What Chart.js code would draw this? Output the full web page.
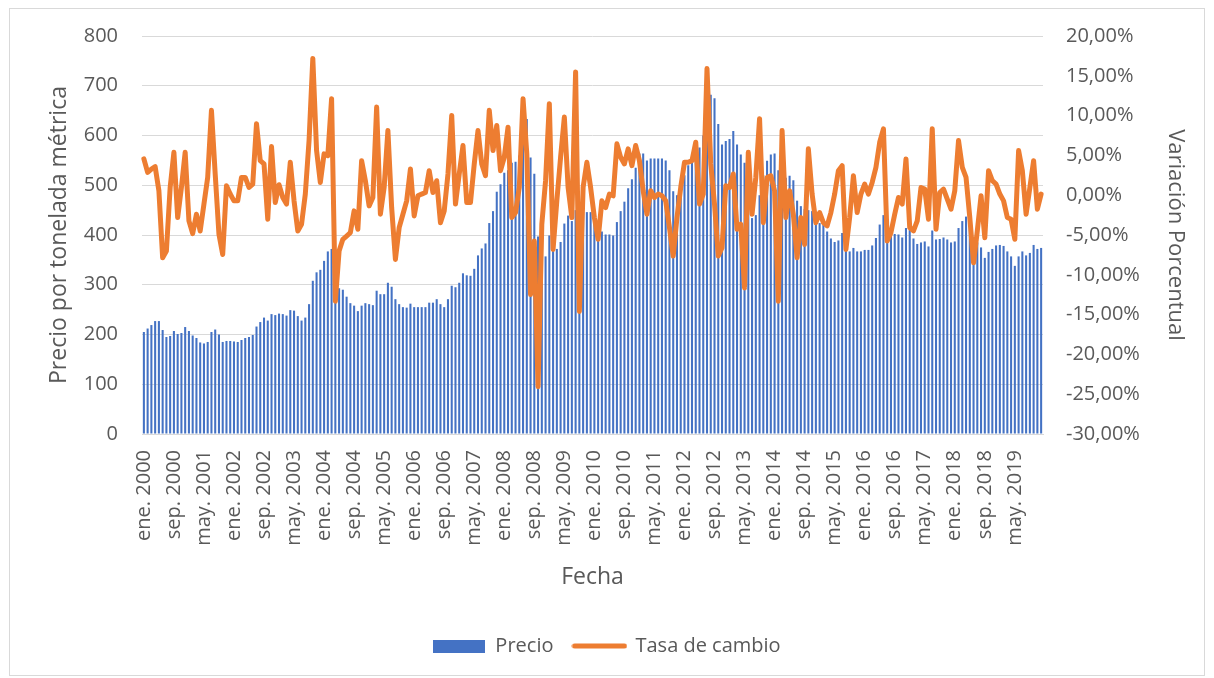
<!DOCTYPE html>
<html lang="es">

<head>
    <meta charset="UTF-8">
    <title>Precio y tasa de cambio</title>
    <script src="https://cdn.jsdelivr.net/npm/chart.js"></script>
    <style>
        body {
            margin: 0;
            background: #ffffff;
        }

        .frame {
            position: absolute;
            left: 9px;
            top: 8px;
            width: 1196px;
            height: 668px;
            border: 1px solid #d9d9d9;
            box-sizing: border-box;
        }

        .chart-box {
            position: absolute;
            left: 0;
            top: 0;
            width: 1214px;
            height: 678px;
        }
    </style>
</head>

<body>

    <div class="frame"></div>
    <div class="chart-box">
        <canvas id="priceChart"></canvas>
    </div>

    <script>
        // Month names and years used for the category axis
        const monthNames = ['ene.', 'feb.', 'mar.', 'abr.', 'may.', 'jun.', 'jul.', 'ago.', 'sep.', 'oct.', 'nov.', 'dic.'];
        const years = [2000, 2001, 2002, 2003, 2004, 2005, 2006, 2007, 2008, 2009,
            2010, 2011, 2012, 2013, 2014, 2015, 2016, 2017, 2018, 2019];

        // Precio (por tonelada métrica), one row per year
        const precio = [
            205, 212, 219, 227, 227, 209, 195, 197, 207, 201, 203, 215,
            207, 198, 193, 184, 182, 185, 205, 210, 200, 185, 187, 187,
            186, 185, 189, 193, 195, 199, 216, 225, 234, 228, 241, 239,
            242, 241, 238, 249, 248, 237, 228, 234, 261, 308, 325, 330,
            348, 367, 372, 310, 293, 290, 276, 263, 258, 247, 258, 263,
            261, 259, 288, 281, 281, 304, 296, 271, 261, 255, 254, 262,
            255, 255, 255, 255, 264, 264, 271, 261, 255, 271, 298, 295,
            304, 323, 319, 318, 332, 359, 373, 383, 424, 448, 487, 502,
            525, 530, 545, 547, 560, 590, 633, 556, 523, 397, 385, 357,
            399, 374, 372, 386, 423, 439, 428, 450, 460, 470, 446, 446,
            430, 415, 407, 401, 401, 399, 426, 448, 467, 494, 512, 535,
            564, 564, 550, 554, 554, 554, 554, 550, 530, 488, 480, 500,
            520, 540, 555, 565, 576, 600, 640, 682, 675, 623, 582, 589,
            593, 609, 582, 562, 545, 470, 434, 440, 480, 520, 549, 562,
            564, 530, 520, 515, 519, 510, 469, 458, 452, 450, 448, 444,
            424, 421, 407, 393, 386, 389, 404, 368, 367, 374, 367, 367,
            370, 370, 379, 394, 421, 440, 400, 399, 402, 401, 395, 414,
            410, 393, 382, 385, 387, 377, 409, 391, 392, 395, 391, 385,
            387, 414, 428, 437, 420, 395, 385, 375, 354, 366, 372, 379,
            380, 378, 367, 357, 338, 357, 367, 359, 364, 380, 372, 374
        ];

        // Tasa de cambio (variación porcentual, en %)
        const tasaCambio = [
            4.56, 2.87, 3.29, 3.59, 0.56, -7.86, -7.02, 0.97, 5.39, -2.81, 0.97, 5.39,
            -3.23, -4.83, -2.39, -4.49, -1.12, 2.23, 10.66, 2.66, -4.91, -7.44, 1.19, 0.14,
            -0.71, -0.71, 2.23, 2.23, 0.97, 1.40, 8.98, 4.34, 3.93, -3.02, 6.11, -0.92,
            1.31, -0.29, -1.12, 4.13, -0.71, -4.49, -3.65, 0.14, 6.87, 17.18, 5.61, 1.60,
            5.19, 4.97, 12.13, -13.33, -7.02, -5.54, -5.13, -4.71, -1.97, -4.28, 4.34, 1.82,
            -1.34, -0.29, 11.07, -2.39, 0.97, 8.13, -1.55, -8.07, -4.08, -2.39, -0.71, 3.29,
            -2.60, -0.08, 0.14, 0.34, 3.08, 0.34, 1.82, -3.45, -1.97, 2.66, 10.02, -1.12,
            2.66, 6.24, -0.92, -0.92, 3.93, 8.13, 3.93, 2.45, 10.66, 5.61, 8.76, 3.08,
            4.76, 8.55, -2.81, -2.18, 0.97, 12.13, 5.19, -12.49, -5.76, -24.07, -3.65, 1.82,
            11.50, -6.81, -0.71, 4.76, 9.81, 0.97, -2.81, 15.49, -14.60, 0.97, 4.13, 0.97,
            -2.81, -5.54, -0.71, -1.55, 0.14, -0.08, 6.45, 4.76, 3.93, 5.82, 3.71, 6.24,
            4.34, 0.56, -2.39, 0.56, -0.29, 0.14, -0.08, -0.71, -4.08, -7.65, -2.81, 0.97,
            4.13, 4.13, 4.34, 6.65, -1.12, 0.14, 15.92, 3.93, -1.12, -7.65, -6.60, 1.19,
            0.97, 2.66, -4.28, -3.65, -11.65, 5.39, -2.39, 2.23, 9.61, -3.45, 2.23, 2.45,
            0.56, -13.33, 8.13, -2.81, 0.56, -2.39, -7.86, -2.81, -6.18, 5.82, 0.14, -3.45,
            -2.18, -3.45, -3.86, -2.18, 0.14, 3.08, 3.71, -6.81, -2.81, 2.45, -2.18, 0.14,
            1.40, 0.14, 1.60, 3.50, 6.65, 8.34, -5.76, -4.70, -2.39, -0.29, -1.12, 4.56,
            -4.08, -4.49, -3.23, 0.97, 0.77, -3.02, 8.34, -4.28, 0.34, 0.77, -0.50, -1.76,
            0.56, 6.87, 3.50, 2.23, -2.81, -8.50, -4.49, -0.08, -5.34, 3.08, 1.82, 1.40,
            0.14, -0.71, -2.81, -3.02, -5.54, 5.61, 3.08, -2.39, 0.97, 4.34, -1.76, 0.14
        ];

        // Build "ene. 2000" ... "dic. 2019"
        const categories = [];
        years.forEach(y => monthNames.forEach(m => categories.push(m + ' ' + y)));

        // only every 8th month gets a tick label
        const labelStep = 8;

        const textColor = '#595959';
        const gridColor = '#d9d9d9';
        const barColor = '#4472C4';
        const lineColor = '#ED7D31';
        Chart.defaults.font.family = "'Open Sans', sans-serif";
        Chart.defaults.color = textColor;

        // small legend markers: a filled box for the bars, a short thick line for the line
        function makeMarker(w, h, draw) {
            const c = document.createElement('canvas');
            c.width = w;
            c.height = h;
            draw(c.getContext('2d'));
            return c;
        }
        const barMarker = makeMarker(52, 13, g => {
            g.fillStyle = barColor;
            g.fillRect(0, 0, 52, 13);
        });
        const lineMarker = makeMarker(56, 6, g => {
            g.strokeStyle = lineColor;
            g.lineWidth = 5;
            g.lineCap = 'round';
            g.beginPath();
            g.moveTo(3, 3);
            g.lineTo(53, 3);
            g.stroke();
        });

        const ctx = document.getElementById('priceChart').getContext('2d');

        new Chart(ctx, {
            type: 'bar',
            data: {
                labels: categories,
                datasets: [{
                    label: 'Precio',
                    data: precio,
                    yAxisID: 'y',
                    backgroundColor: barColor,
                    barPercentage: 0.55,
                    categoryPercentage: 1,
                    order: 1
                }, {
                    type: 'line',
                    label: 'Tasa de cambio',
                    data: tasaCambio,
                    yAxisID: 'y2',
                    borderColor: lineColor,
                    backgroundColor: lineColor,
                    borderWidth: 5,
                    pointRadius: 0,
                    tension: 0,
                    borderJoinStyle: 'round',
                    borderCapStyle: 'round',
                    order: 0
                }]
            },
            options: {
                responsive: true,
                maintainAspectRatio: false,
                animation: false,
                layout: {
                    padding: { top: 36, bottom: 12, left: 0, right: 0 }
                },
                plugins: {
                    tooltip: { enabled: false },
                    legend: {
                        position: 'bottom',
                        labels: {
                            color: textColor,
                            font: { size: 20 },
                            padding: 20,
                            usePointStyle: true,
                            pointStyleWidth: 52,
                            boxHeight: 13,
                            sort: (a, b) => a.datasetIndex - b.datasetIndex,
                            generateLabels: function (chart) {
                                const items = Chart.defaults.plugins.legend.labels.generateLabels(chart);
                                items.forEach(item => {
                                    item.pointStyle = item.datasetIndex === 0 ? barMarker : lineMarker;
                                });
                                return items;
                            }
                        }
                    }
                },
                scales: {
                    x: {
                        grid: { display: false, drawTicks: false },
                        border: { color: gridColor },
                        ticks: {
                            autoSkip: false,
                            minRotation: 90,
                            maxRotation: 90,
                            padding: 16,
                            color: textColor,
                            font: { size: 20 },
                            callback: function (value, index) {
                                return index % labelStep === 0 ? categories[index] : '';
                            }
                        },
                        title: {
                            display: true,
                            text: 'Fecha',
                            color: textColor,
                            font: { size: 23 },
                            padding: { top: 0, bottom: 25 }
                        },
                        afterFit: function (scale) {
                            scale.height = 182;
                        }
                    },
                    y: {
                        position: 'left',
                        min: 0,
                        max: 800,
                        grid: { color: gridColor, drawTicks: false },
                        border: { display: false },
                        ticks: {
                            stepSize: 100,
                            padding: 24,
                            color: textColor,
                            font: { size: 20 }
                        },
                        title: {
                            display: true,
                            text: 'Precio por tonelada métrica',
                            color: textColor,
                            font: { size: 23 },
                            padding: { top: 46, bottom: 0 }
                        },
                        afterFit: function (scale) {
                            scale.width = 142;
                        }
                    },
                    y2: {
                        position: 'right',
                        min: -30,
                        max: 20,
                        grid: { display: false, drawTicks: false },
                        border: { display: false },
                        ticks: {
                            stepSize: 5,
                            padding: 23,
                            color: textColor,
                            font: { size: 20 },
                            callback: function (value) {
                                return value.toFixed(2).replace('.', ',') + '%';
                            }
                        },
                        title: {
                            display: true,
                            text: 'Variación Porcentual',
                            color: textColor,
                            font: { size: 22 },
                            padding: { top: 26, bottom: 0 }
                        },
                        afterFit: function (scale) {
                            scale.width = 171;
                        }
                    }
                }
            }
        });
    </script>

</body>

</html>
